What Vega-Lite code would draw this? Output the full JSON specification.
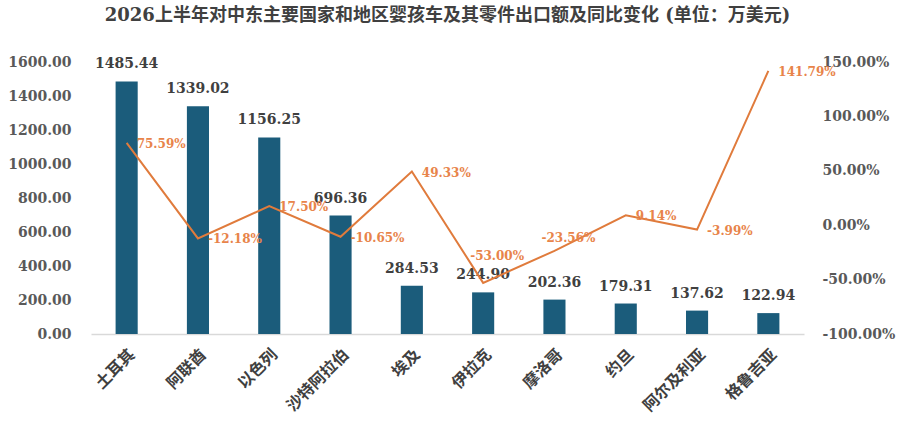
{
  "$schema": "https://vega.github.io/schema/vega-lite/v6.json",
  "autosize": {"type": "none"},
  "width": 713,
  "height": 272,
  "padding": {"left": 91, "right": 96, "top": 62, "bottom": 95},
  "background": "white",
  "config": {
    "view": {"stroke": null},
    "font": "DejaVu Serif, Noto Sans CJK SC",
    "locale": {
      "number": {"decimal": ".", "thousands": ",", "grouping": [3], "currency": ["", ""], "minus": "-"}
    }
  },
  "title": {
    "text": "2026上半年对中东主要国家和地区婴孩车及其零件出口额及同比变化 (单位：万美元)",
    "font": "DejaVu Serif, Noto Sans CJK SC",
    "fontSize": 18,
    "fontWeight": "bold",
    "color": "#404040",
    "anchor": "middle",
    "frame": "group",
    "offset": 30
  },
  "data": {
    "values": [
      {"country": "土耳其", "amount": 1485.44, "yoy": 0.7559},
      {"country": "阿联酋", "amount": 1339.02, "yoy": -0.1218},
      {"country": "以色列", "amount": 1156.25, "yoy": 0.175},
      {"country": "沙特阿拉伯", "amount": 696.36, "yoy": -0.1065},
      {"country": "埃及", "amount": 284.53, "yoy": 0.4933},
      {"country": "伊拉克", "amount": 244.9, "yoy": -0.53},
      {"country": "摩洛哥", "amount": 202.36, "yoy": -0.2356},
      {"country": "约旦", "amount": 179.31, "yoy": 0.0914},
      {"country": "阿尔及利亚", "amount": 137.62, "yoy": -0.0399},
      {"country": "格鲁吉亚", "amount": 122.94, "yoy": 1.4179}
    ]
  },
  "encoding": {
    "x": {
      "field": "country",
      "type": "nominal",
      "sort": null,
      "title": null,
      "scale": {"paddingInner": 0.69, "paddingOuter": 0.345},
      "axis": {
        "labelAngle": -45,
        "labelFontSize": 16,
        "labelFontWeight": "bold",
        "labelColor": "#404040",
        "labelFont": "DejaVu Serif, Noto Sans CJK SC",
        "labelPadding": 12,
        "ticks": false,
        "domainColor": "#d9d9d9",
        "domainWidth": 1.5
      }
    }
  },
  "layer": [
    {
      "encoding": {
        "y": {
          "field": "amount",
          "type": "quantitative",
          "title": null,
          "scale": {"domain": [0, 1600], "nice": false},
          "axis": {
            "orient": "left",
            "values": [0, 200, 400, 600, 800, 1000, 1200, 1400, 1600],
            "format": ".2f",
            "grid": false,
            "domain": false,
            "ticks": false,
            "labelOverlap": false,
            "labelPadding": 20,
            "labelFontSize": 14,
            "labelFontWeight": "bold",
            "labelColor": "#595959"
          }
        }
      },
      "layer": [
        {
          "mark": {"type": "bar", "color": "#1b5c7b"}
        },
        {
          "mark": {"type": "text", "baseline": "bottom", "dy": -10, "fontSize": 14, "fontWeight": "bold", "color": "#404040"},
          "encoding": {
            "text": {"field": "amount", "type": "quantitative", "format": ".2f"}
          }
        }
      ]
    },
    {
      "encoding": {
        "y": {
          "field": "yoy",
          "type": "quantitative",
          "title": null,
          "scale": {"domain": [-1, 1.5], "nice": false},
          "axis": {
            "orient": "right",
            "values": [-1, -0.5, 0, 0.5, 1, 1.5],
            "format": ".2%",
            "grid": false,
            "domain": false,
            "ticks": false,
            "labelOverlap": false,
            "labelPadding": 18,
            "labelFontSize": 14,
            "labelFontWeight": "bold",
            "labelColor": "#595959"
          }
        }
      },
      "layer": [
        {
          "mark": {"type": "line", "color": "#e07b3c", "strokeWidth": 2}
        },
        {
          "transform": [{"filter": "datum.country !== '伊拉克' && datum.country !== '摩洛哥'"}],
          "mark": {"type": "text", "align": "left", "baseline": "middle", "dx": 10, "dy": 1, "fontSize": 12, "fontWeight": "bold", "color": "#e8844a"},
          "encoding": {
            "text": {"field": "yoy", "type": "quantitative", "format": ".2%"}
          }
        },
        {
          "transform": [{"filter": "datum.country === '摩洛哥'"}],
          "mark": {"type": "text", "align": "center", "baseline": "middle", "dx": 14, "dy": -13, "fontSize": 12, "fontWeight": "bold", "color": "#e8844a"},
          "encoding": {
            "text": {"field": "yoy", "type": "quantitative", "format": ".2%"}
          }
        },
        {
          "transform": [{"filter": "datum.country === '伊拉克'"}],
          "mark": {"type": "text", "align": "center", "baseline": "middle", "dx": 14, "dy": -27, "fontSize": 12, "fontWeight": "bold", "color": "#e8844a"},
          "encoding": {
            "text": {"field": "yoy", "type": "quantitative", "format": ".2%"}
          }
        }
      ]
    }
  ],
  "resolve": {"scale": {"y": "independent"}}
}
